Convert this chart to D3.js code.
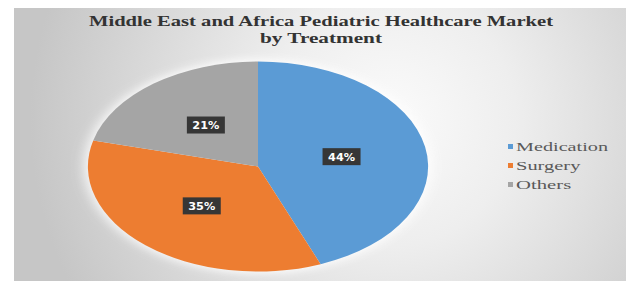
<!DOCTYPE html>
<html>
<head>
<meta charset="utf-8">
<script src="https://cdn.jsdelivr.net/npm/d3@7"></script>
<style>
  body { margin: 0; background: #fff; }
  svg { display: block; }
</style>
</head>
<body>
<div id="chart"></div>
<script>
const categories = ["Medication", "Surgery", "Others"];
const shares = [44, 35, 21];
const colors = ["#5b9bd5", "#ed7d31", "#a5a5a5"];
const titleLines = ["Middle East and Africa Pediatric Healthcare Market", "by Treatment"];

const serif = "'Liberation Serif', 'DejaVu Serif', serif";
const width = 626, height = 281;
const svg = d3.select("#chart").append("svg")
  .attr("width", width)
  .attr("height", height);

const defs = svg.append("defs");
const bg = defs.append("radialGradient")
  .attr("id", "bg")
  .attr("gradientUnits", "userSpaceOnUse")
  .attr("cx", 390).attr("cy", 120).attr("r", 360);
bg.append("stop").attr("offset", "0%").attr("stop-color", "#fbfbfb");
bg.append("stop").attr("offset", "35%").attr("stop-color", "#eeeeee");
bg.append("stop").attr("offset", "100%").attr("stop-color", "#c6c6c6");

defs.append("filter").attr("id", "glow")
  .attr("x", "-20%").attr("y", "-20%").attr("width", "140%").attr("height", "140%")
  .append("feGaussianBlur").attr("stdDeviation", 4);

// chart area
svg.append("rect")
  .attr("x", 14).attr("y", 8)
  .attr("width", width - 14).attr("height", height - 8)
  .attr("fill", "url(#bg)");

// title
svg.selectAll(".title")
  .data(titleLines)
  .enter()
  .append("text")
    .attr("class", "title")
    .attr("x", 321)
    .attr("y", (d, i) => 26 + i * 17)
    .attr("text-anchor", "middle")
    .style("font-family", serif)
    .attr("font-weight", "bold")
    .attr("font-size", "14px")
    .attr("fill", "#333333")
    .attr("textLength", (d, i) => i == 0 ? 464 : 122)
    .attr("lengthAdjust", "spacingAndGlyphs")
    .text(d => d);

// pie (stretched horizontally like the picture)
const cx = 258, cy = 166.5, radius = 105, sx = 1.62;
const pie = d3.pie().sort(null).value(d => d.value);
const arcs = pie(categories.map((c, i) => ({name: c, value: shares[i], color: colors[i]})));
const arc = d3.arc().innerRadius(0).outerRadius(radius);

const g = svg.append("g")
  .attr("transform", `translate(${cx},${cy}) scale(${sx},1)`);

g.append("circle")
  .attr("r", radius + 2)
  .attr("fill", "#ffffff")
  .attr("opacity", 0.9)
  .attr("filter", "url(#glow)");

g.selectAll("path")
  .data(arcs)
  .enter()
  .append("path")
    .attr("d", arc)
    .attr("fill", d => d.data.color);

// labels
const lab = svg.selectAll(".lab")
  .data(arcs)
  .enter()
  .append("g")
    .attr("class", "lab")
    .attr("transform", d => {
      const c = arc.centroid(d);
      return `translate(${cx + c[0] * sx},${cy + c[1]})`;
    });
lab.append("rect")
  .attr("x", -19).attr("y", -8.5)
  .attr("width", 38).attr("height", 17)
  .attr("fill", "#363636");
lab.append("text")
  .attr("y", 4)
  .attr("text-anchor", "middle")
  .style("font-family", "'DejaVu Sans', sans-serif")
  .attr("font-weight", "bold")
  .attr("font-size", "10px")
  .attr("fill", "#ffffff")
  .attr("textLength", 27)
  .attr("lengthAdjust", "spacingAndGlyphs")
  .text(d => d.data.value + "%");

// legend
const legend = svg.selectAll(".leg")
  .data(categories)
  .enter()
  .append("g")
    .attr("class", "leg")
    .attr("transform", (d, i) => `translate(508,${147 + i * 19})`);
legend.append("rect")
  .attr("x", 0).attr("y", -3)
  .attr("width", 5).attr("height", 5)
  .attr("fill", (d, i) => colors[i]);
legend.append("text")
  .attr("x", 8).attr("y", 4)
  .style("font-family", serif)
  .attr("font-size", "12px")
  .attr("fill", "#595959")
  .attr("textLength", d => d.length * 9.2)
  .attr("lengthAdjust", "spacingAndGlyphs")
  .text(d => d);
</script>
</body>
</html>
